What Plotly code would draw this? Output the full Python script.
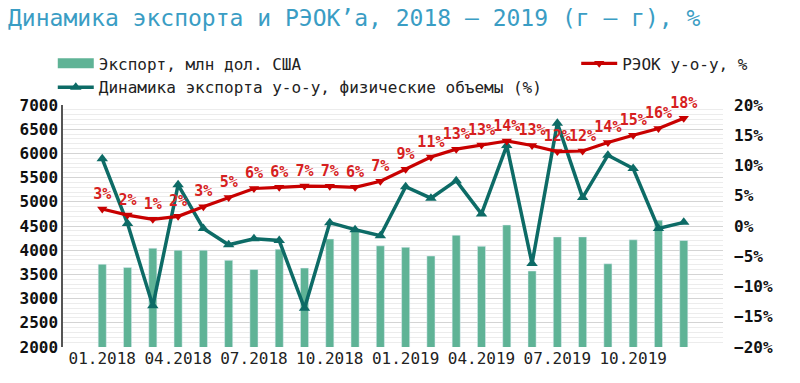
import plotly.graph_objects as go

months = ["01.2018","02.2018","03.2018","04.2018","05.2018","06.2018","07.2018","08.2018",
          "09.2018","10.2018","11.2018","12.2018","01.2019","02.2019","03.2019","04.2019",
          "05.2019","06.2019","07.2019","08.2019","09.2019","10.2019","11.2019","12.2019"]
tick_labels = months[::3]

export_mln_usd = [3710, 3640, 4040, 4000, 4000, 3790, 3600, 4020, 3630, 4230, 4420, 4090,
                  4060, 3880, 4310, 4080, 4520, 3570, 4275, 4275, 3720, 4215, 4620, 4200]

reok_yoy = [2.8, 1.8, 1.1, 1.6, 3.2, 4.7, 6.2, 6.4, 6.6, 6.55, 6.4, 7.4,
            9.4, 11.4, 12.7, 13.4, 14.05, 13.3, 12.3, 12.4, 13.8, 15.0, 16.1, 17.8]

phys_yoy = [11.1, 0.4, -13.2, 6.8, -0.4, -3.1, -2.1, -2.4, -13.6, 0.55, -0.6, -1.6,
            6.5, 4.6, 7.5, 2.0, 13.3, -6.2, 17.0, 4.7, 11.7, 9.5, -0.4, 0.6]

FONT = "DejaVu Sans Mono"
BAR_COLOR = "#5fb396"

fig = go.Figure()
fig.add_trace(go.Bar(
    x=months, y=export_mln_usd, name="Экспорт, млн дол. США",
    marker=dict(color=BAR_COLOR), showlegend=False, yaxis="y"))
# legend entry drawn as a wide rectangle, like the reference's legend key
fig.add_trace(go.Scatter(
    x=[None], y=[None], name="Экспорт, млн дол. США", mode="lines",
    line=dict(color=BAR_COLOR, width=11), legend="legend", yaxis="y"))
fig.add_trace(go.Scatter(
    x=months, y=phys_yoy, name="Динамика экспорта y-o-y, физические объемы (%)",
    mode="lines+markers", line=dict(color="#0d6b66", width=3.5),
    marker=dict(symbol="triangle-up", size=10, color="#0d6b66"),
    yaxis="y2", legend="legend"))
fig.add_trace(go.Scatter(
    x=months, y=reok_yoy, name="РЭОК y-o-y, %",
    mode="lines+markers+text", line=dict(color="#c80000", width=3.2),
    marker=dict(symbol="triangle-down", size=9, color="#c80000"),
    text=reok_yoy, texttemplate="%{y:.0f}%", textposition="top center",
    cliponaxis=False,
    textfont=dict(family=FONT, size=15, color="#d62020", weight="bold"),
    yaxis="y2", legend="legend2"))

fig.update_layout(
    width=800, height=383,
    margin=dict(l=63, r=77, t=105, b=36, autoexpand=False),
    paper_bgcolor="white", plot_bgcolor="white",
    font=dict(family=FONT, size=16, color="#1a1a1a"),
    title=dict(text="Динамика экспорта и РЭОК’а, 2018 – 2019 (г – г), %",
               x=0.01, xanchor="left", y=0.952, yanchor="middle",
               font=dict(family=FONT, size=23, color="#3a9dc4")),
    bargap=0.68,
    xaxis=dict(type="category", tickvals=tick_labels, ticktext=tick_labels,
               showgrid=False, tickfont=dict(family=FONT, size=16, color="#222"),
               showline=False, ticks=""),
    yaxis=dict(range=[2000, 7000], dtick=500, showgrid=True, gridcolor="#d4d4d4",
               minor=dict(dtick=100, showgrid=True, gridcolor="#ececec"),
               showline=True, linecolor="#555", linewidth=1.5,
               tickfont=dict(family=FONT, size=16, color="#111", weight="bold"),
               zeroline=False),
    yaxis2=dict(range=[-20, 20], dtick=5, overlaying="y", side="right",
                showgrid=False, zeroline=False, ticksuffix="%",
                ticklabelstandoff=10,
                tickfont=dict(family=FONT, size=16, color="#111", weight="bold")),
    legend=dict(x=-0.0155, y=1.242, xanchor="left", yanchor="top",
                orientation="v", bgcolor="rgba(0,0,0,0)", itemwidth=36,
                font=dict(family=FONT, size=16, color="#222"),
                tracegroupgap=0, traceorder="normal"),
    legend2=dict(x=0.7776, y=1.242, xanchor="left", yanchor="top",
                 orientation="v", bgcolor="rgba(0,0,0,0)", itemwidth=36,
                 font=dict(family=FONT, size=16, color="#222")),
)

# remove the browser's default 8px body margin so the figure fills the window exactly
fig.write_html("out.html", config={"displayModeBar": False},
               post_script="document.body.style.margin='0';")
